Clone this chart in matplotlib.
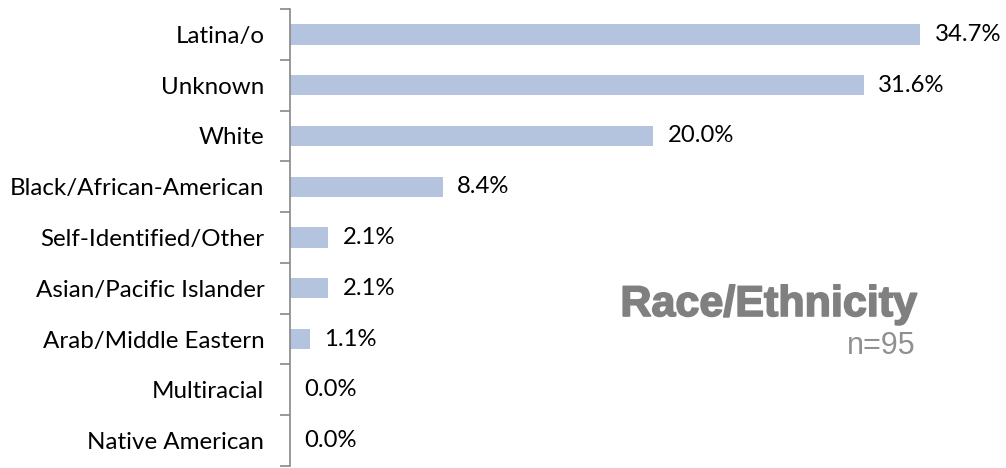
"""Race/Ethnicity horizontal bar chart."""
import numpy as np
from matplotlib import pyplot as plt
from matplotlib import patheffects as pe

categories = ['Latina/o', 'Unknown', 'White', 'Black/African-American',
              'Self-Identified/Other', 'Asian/Pacific Islander',
              'Arab/Middle Eastern', 'Multiracial', 'Native American']
values = [34.7, 31.6, 20.0, 8.4, 2.1, 2.1, 1.1, 0.0, 0.0]

W, H = 1006, 468
fig = plt.figure(figsize=(W / 100, H / 100), dpi=100)
x0, x1 = 290, 1006
y_top, y_bot = 9, 466
ax = fig.add_axes([x0 / W, 1 - y_bot / H, (x1 - x0) / W, (y_bot - y_top) / H])

px_per_pct = (920 - 290) / 34.7
ax.set_xlim(0, (x1 - x0) / px_per_pct)

n = len(categories)
pos = np.arange(n)
ax.barh(pos, values, height=0.4, color='#b4c3de')
ax.set_ylim(n - 0.5, -0.5)

font = 'Lato'
for p, v in zip(pos, values):
    ax.text(v + 0.8, p, '{:.1f}%'.format(v), va='center', ha='left',
            fontsize=17.2, family=font, color='black')

ax.set_yticks(pos)
ax.set_yticklabels(categories, fontsize=17.4, family=font)
ax.set_yticks(np.arange(n + 1) - 0.5, minor=True)
ax.tick_params(axis='y', which='major', length=0, pad=18.5)
ax.tick_params(axis='y', which='minor', length=7, width=1.2, color='#888888')

for s in ['top', 'right', 'bottom']:
    ax.spines[s].set_visible(False)
ax.spines['left'].set_color('#888888')
ax.spines['left'].set_linewidth(1.2)
ax.set_xticks([])

fig.text(916 / W, 1 - 305 / H, 'Race/Ethnicity', ha='right', va='center',
         fontsize=31, fontweight='bold', family='Liberation Sans', color='#808080',
         path_effects=[pe.withStroke(linewidth=1.2, foreground='#808080')])
fig.text(916 / W, 1 - 346 / H, 'n=95', ha='right', va='center',
         fontsize=22, family='Liberation Sans', color='#909090')

plt.savefig('out.png', dpi=100)
